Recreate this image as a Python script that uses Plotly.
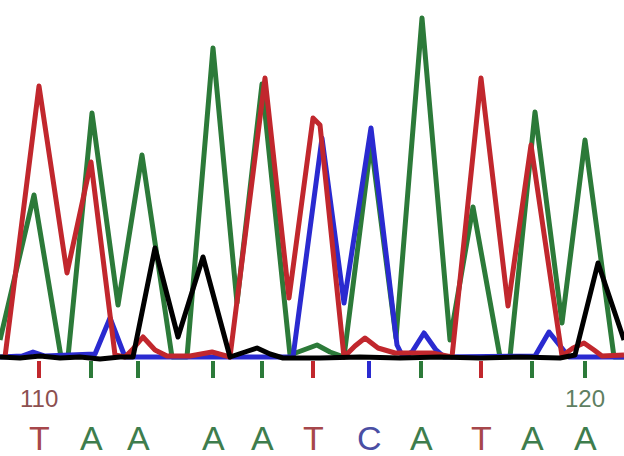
import plotly.graph_objects as go

# Base calls (scan position of each call) and labels
base_pos = [39, 91, 138, 213, 262, 313, 369, 421, 481, 532, 585]
base_call = ["T", "A", "A", "A", "A", "T", "C", "A", "T", "A", "A"]
num_pos = [39, 585]
num_labels = ["110", "120"]

# Trace data: scan position and signal intensity for each channel
a_x = [0, 34, 61, 68, 92, 118, 142, 172, 187, 213, 237, 262, 290, 303, 317, 330, 344, 371, 396, 422, 450, 473, 500, 510, 535, 562, 585, 614, 624]
a_y = [18, 163, 1, 1, 245, 53, 203, 1, 1, 310, 55, 274, 3, 8, 13, 6, 1, 215, 20, 340, 18, 151, 1, 1, 246, 35, 218, 1, 1]

t_x = [5, 39, 67, 91, 115, 125, 132, 143, 155, 167, 190, 212, 230, 265, 289, 313, 320, 344, 355, 365, 378, 395, 432, 452, 481, 508, 531, 562, 573, 584, 594, 602, 624]
t_y = [1, 272, 85, 196, 3, 1, 8, 21, 8, 2, 2, 6, 1, 280, 60, 240, 233, 1, 12, 20, 10, 5, 5, 1, 280, 52, 213, 2, 10, 15, 8, 2, 3]

c_x = [0, 22, 33, 45, 95, 110, 125, 200, 293, 322, 344, 371, 397, 403, 412, 424, 436, 444, 535, 549, 569, 624]
c_y = [1, 2, 6, 2, 4, 40, 1, 1, 1, 220, 55, 230, 13, 1, 6, 25, 8, 1, 2, 26, 1, 1]

g_x = [0, 20, 40, 60, 80, 100, 120, 133, 155, 178, 203, 230, 245, 257, 270, 283, 320, 360, 400, 440, 480, 520, 560, 575, 598, 624]
g_y = [1, 0, 2, 0, 1, -1, 1, 1, 110, 21, 101, 1, 6, 10, 4, 0, 0, 1, 0, 1, 0, 1, 0, 3, 95, 18]

line_col = {"A": "#2c7a39", "T": "#c1272d", "C": "#2a2ad0", "G": "#000000"}
text_col = {"A": "#3e7d4d", "T": "#a6474b", "C": "#4a4ea3", "G": "#333333"}
num_col = ["#8c5050", "#5f7f62"]

fig = go.Figure()
for xs, ys, b in [(a_x, a_y, "A"), (c_x, c_y, "C"), (t_x, t_y, "T"), (g_x, g_y, "G")]:
    fig.add_trace(go.Scatter(x=xs, y=ys, mode="lines",
                             line=dict(color=line_col[b], width=5),
                             hoverinfo="skip", showlegend=False))

# Tick marks under the baseline, colored by base call
for b in ["A", "T", "C"]:
    tx, ty = [], []
    for p, c in zip(base_pos, base_call):
        if c == b:
            tx += [p, p, None]
            ty += [-3, -20, None]
    fig.add_trace(go.Scatter(x=tx, y=ty, mode="lines",
                             line=dict(color=line_col[b], width=4),
                             hoverinfo="skip", showlegend=False))

for p, c in zip(base_pos, base_call):
    fig.add_annotation(x=p, y=-80, text=c, showarrow=False,
                       font=dict(family="Arial, Liberation Sans", size=34, color=text_col[c]))
for p, t, col in zip(num_pos, num_labels, num_col):
    fig.add_annotation(x=p, y=-40, text=t, showarrow=False,
                       font=dict(family="Arial, Liberation Sans", size=24, color=col))

fig.update_layout(width=624, height=456, margin=dict(l=0, r=0, t=0, b=0),
                  paper_bgcolor="white", plot_bgcolor="white")
fig.update_xaxes(range=[0, 624], visible=False)
fig.update_yaxes(range=[-98, 358], visible=False)
fig.write_html(
    "out.html",
    config={"displayModeBar": False},
    post_script=(
        "document.body.style.margin='0';document.body.style.overflow='hidden';"
        "document.querySelectorAll('.js-line').forEach(function(p){p.style.strokeLinejoin='round';});"
    ),
)
